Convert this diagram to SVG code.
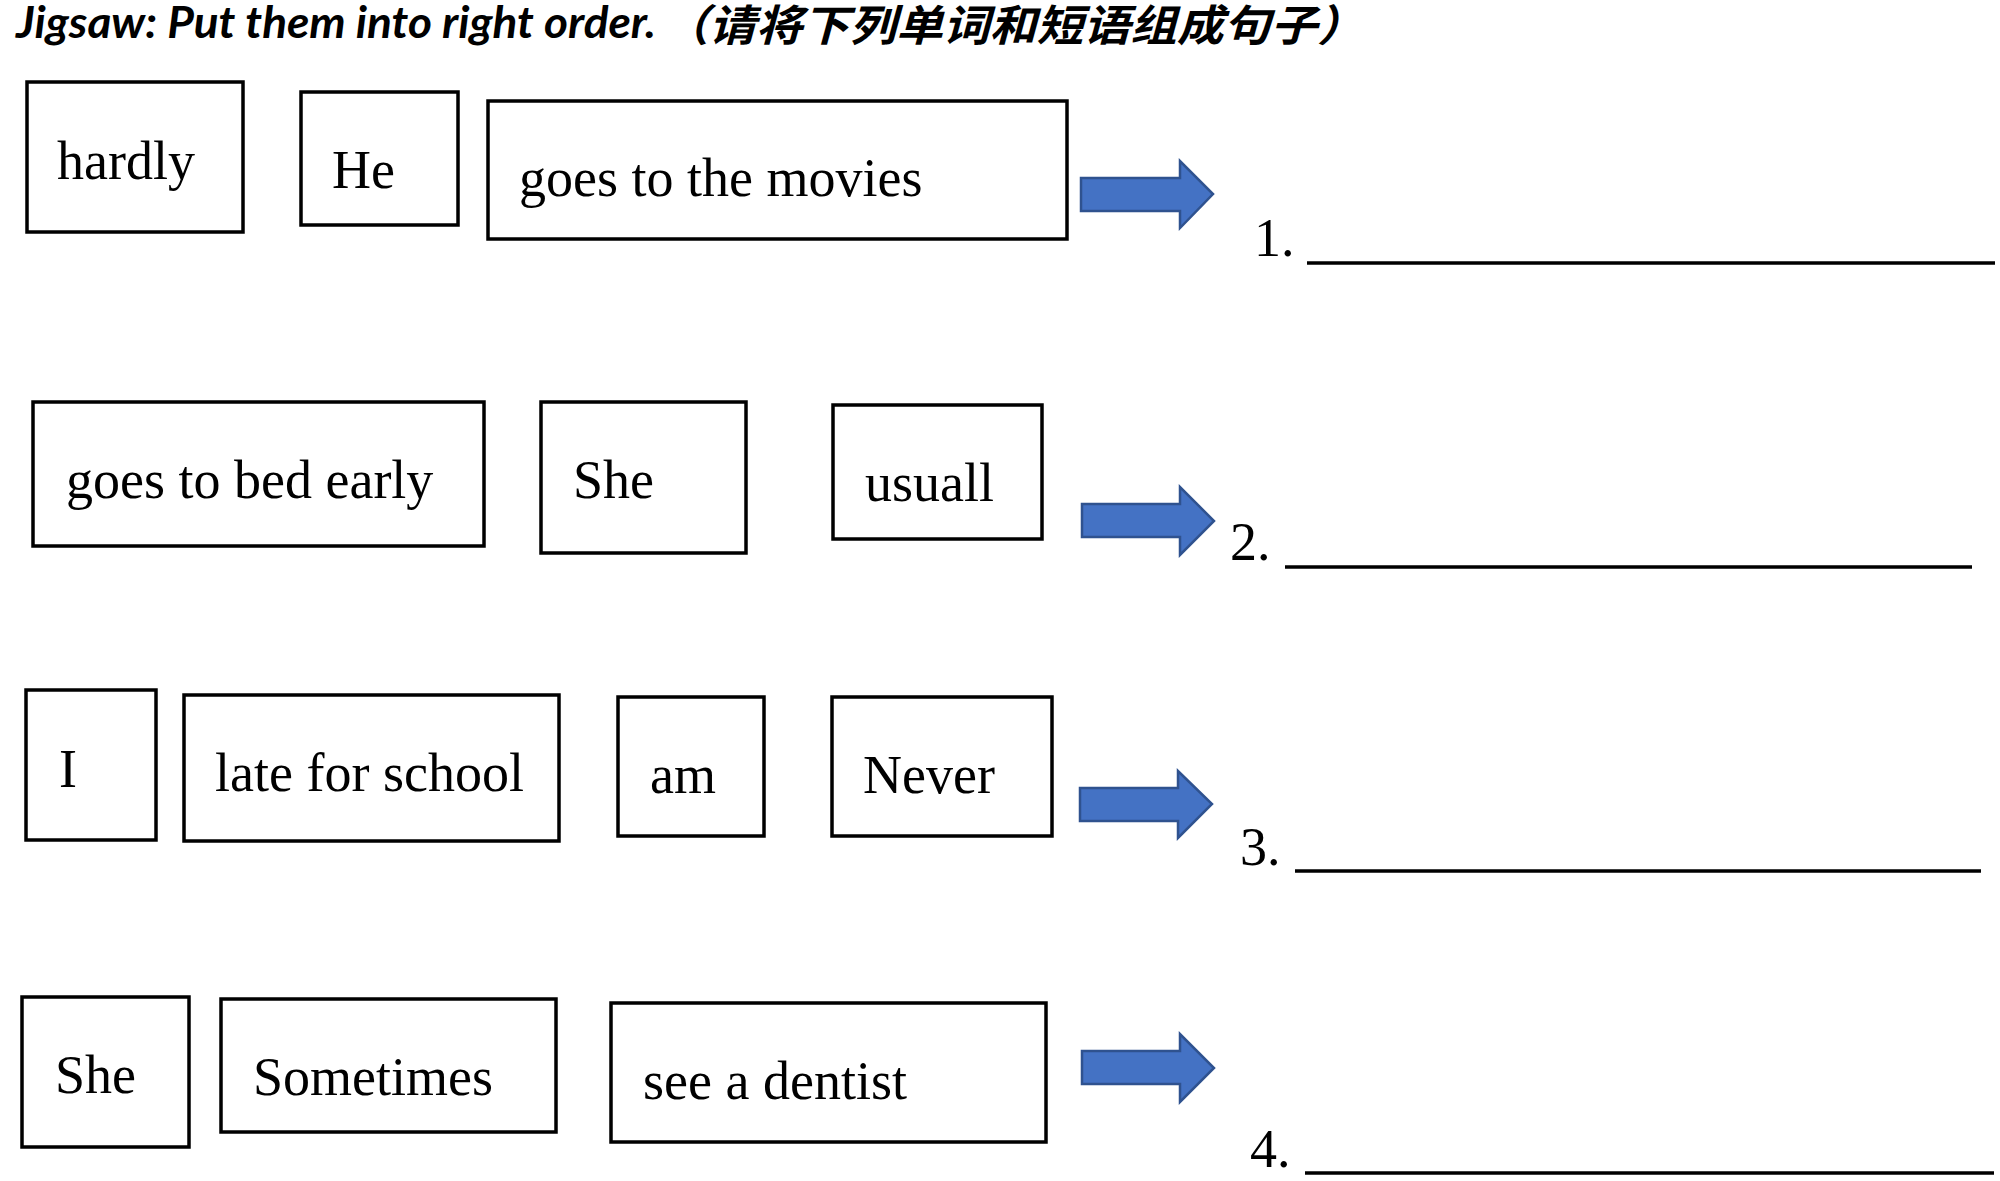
<svg xmlns="http://www.w3.org/2000/svg" width="2000" height="1181" viewBox="0 0 2000 1181">
<style>
.box{fill:#fff;stroke:#000;stroke-width:3.5}
.w{font-family:"Liberation Serif","Times New Roman",serif;font-size:54px;fill:#000}
.num{font-family:"Liberation Serif","Times New Roman",serif;font-size:54px;fill:#000}
.ans{stroke:#000;stroke-width:3.5}
.arr{fill:#4472C4;stroke:#2F528F;stroke-width:2.5;stroke-linejoin:miter}
.ttl{font-family:Lato,"Open Sans","Liberation Sans",sans-serif;font-size:44px;font-weight:bold;font-style:italic;fill:#000}
.ttlc{font-family:"Noto Sans CJK SC","Noto Sans",sans-serif;font-size:43px;font-weight:bold;font-style:italic;fill:#000}
</style>
<rect width="2000" height="1181" fill="#fff"/>
<g id="title">
<text class="ttl" x="16" y="38" textLength="640" lengthAdjust="spacingAndGlyphs">Jigsaw: Put them into right order.</text>
<text class="ttlc" x="662" y="41" textLength="702" lengthAdjust="spacingAndGlyphs">（请将下列单词和短语组成句子）</text>
</g>
<g id="row1">
<g id="n-hardly"><rect class="box" x="27" y="82" width="216" height="150"/><text class="w" x="57" y="179">hardly</text></g>
<g id="n-he"><rect class="box" x="301" y="92" width="157" height="133"/><text class="w" x="332" y="188">He</text></g>
<g id="n-movies"><rect class="box" x="488" y="101" width="579" height="138"/><text class="w" x="519" y="196">goes to the movies</text></g>
</g>
<g id="row2">
<g id="n-bed"><rect class="box" x="33" y="402" width="451" height="144"/><text class="w" x="66" y="498">goes to bed early</text></g>
<g id="n-she2"><rect class="box" x="541" y="402" width="205" height="151"/><text class="w" x="573" y="498">She</text></g>
<g id="n-usuall"><rect class="box" x="833" y="405" width="209" height="134"/><text class="w" x="865" y="501">usuall</text></g>
</g>
<g id="row3">
<g id="n-i"><rect class="box" x="26" y="690" width="130" height="150"/><text class="w" x="59" y="787">I</text></g>
<g id="n-late"><rect class="box" x="184" y="695" width="375" height="146"/><text class="w" x="215" y="791">late for school</text></g>
<g id="n-am"><rect class="box" x="618" y="697" width="146" height="139"/><text class="w" x="650" y="793">am</text></g>
<g id="n-never"><rect class="box" x="832" y="697" width="220" height="139"/><text class="w" x="863" y="793">Never</text></g>
</g>
<g id="row4">
<g id="n-she4"><rect class="box" x="22" y="997" width="167" height="150"/><text class="w" x="55" y="1093">She</text></g>
<g id="n-sometimes"><rect class="box" x="221" y="999" width="335" height="133"/><text class="w" x="253" y="1095">Sometimes</text></g>
<g id="n-dentist"><rect class="box" x="611" y="1003" width="435" height="139"/><text class="w" x="643" y="1099">see a dentist</text></g>
</g>
<g id="connectors">
<polygon class="arr" points="1081,178 1180,178 1180,161 1213,194 1180,228 1180,211 1081,211"/>
<polygon class="arr" points="1082,504 1180,504 1180,487 1214,521 1180,555 1180,537 1082,537"/>
<polygon class="arr" points="1080,788 1178,788 1178,771 1212,804 1178,838 1178,821 1080,821"/>
<polygon class="arr" points="1082,1051 1180,1051 1180,1034 1214,1068 1180,1102 1180,1084 1082,1084"/>
</g>
<g id="answers">
<text class="num" x="1254" y="256">1.</text><line class="ans" x1="1307" y1="263" x2="1995" y2="263"/>
<text class="num" x="1230" y="560">2.</text><line class="ans" x1="1285" y1="567" x2="1972" y2="567"/>
<text class="num" x="1240" y="865">3.</text><line class="ans" x1="1295" y1="871" x2="1981" y2="871"/>
<text class="num" x="1250" y="1167">4.</text><line class="ans" x1="1305" y1="1173" x2="1994" y2="1173"/>
</g>
</svg>
